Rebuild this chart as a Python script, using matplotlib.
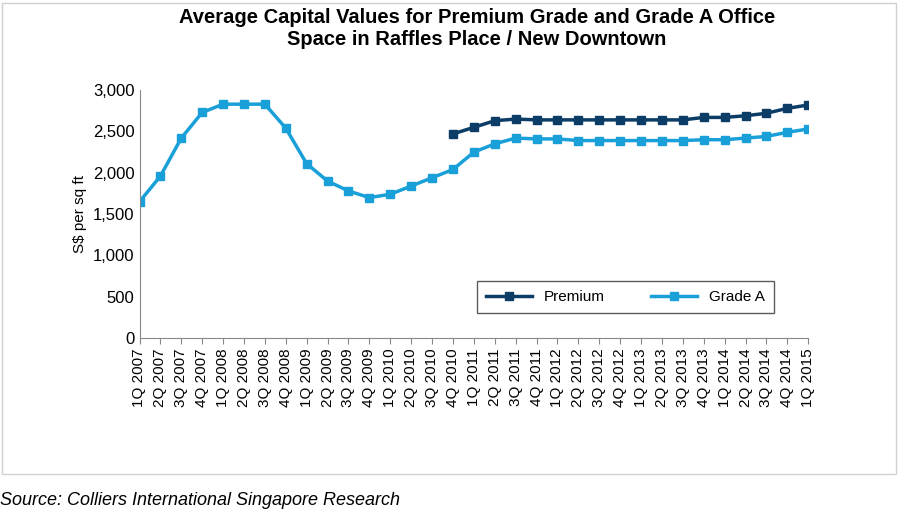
import matplotlib
matplotlib.use("Agg")
import matplotlib.pyplot as plt
from matplotlib.patches import Rectangle

quarters = [f"{q}Q {y}" for y in range(2007, 2016) for q in range(1, 5)][:33]
grade_a = [1650, 1960, 2420, 2730, 2830, 2830, 2830, 2540, 2110, 1900, 1780, 1700,
           1740, 1840, 1940, 2040, 2250, 2350, 2420, 2410, 2410, 2390, 2390, 2390,
           2390, 2390, 2390, 2400, 2400, 2420, 2440, 2490, 2530]
premium = [2470, 2550, 2630, 2650, 2640, 2640, 2640, 2640, 2640, 2640, 2640, 2640,
           2670, 2670, 2690, 2720, 2780, 2820]
premium_start = quarters.index("4Q 2010")

plt.rcParams['font.family'] = ['Liberation Sans', 'DejaVu Sans']
fig = plt.figure(figsize=(9, 5.21), dpi=100)
fig.patches.append(Rectangle((0.002, 0.09), 0.993, 0.905, transform=fig.transFigure,
                             fill=False, edgecolor="#d0d0d0", linewidth=1))
ax = fig.add_axes([0.155, 0.351, 0.743, 0.476])

x = list(range(len(quarters)))
ax.plot(x[premium_start:], premium, color="#0b3d66", marker="s", markersize=6,
        linewidth=2.5, label="Premium")
ax.plot(x, grade_a, color="#1aa0d8", marker="s", markersize=6, linewidth=2.5,
        label="Grade A")

ax.set_xlim(0, len(quarters) - 1)
ax.set_ylim(0, 3000)
ax.set_yticks(range(0, 3001, 500))
ax.set_yticklabels([f"{v:,}" for v in range(0, 3001, 500)], fontsize=12)
ax.set_xticks(x)
ax.set_xticklabels(quarters, rotation=90, fontsize=11)
ax.set_ylabel("S$ per sq ft", fontsize=11)
for s in ["top", "right"]:
    ax.spines[s].set_visible(False)
ax.spines["left"].set_color("#888888")
ax.spines["bottom"].set_color("#888888")
ax.tick_params(axis="x", length=4, color="#888888")
ax.tick_params(axis="y", length=0)

leg = ax.legend(loc="lower right", bbox_to_anchor=(0.96, 0.07), ncol=2, fontsize=11,
                frameon=True, fancybox=False, edgecolor="#333333",
                handlelength=3, columnspacing=3, borderpad=0.6)
leg.get_frame().set_linewidth(1)

fig.suptitle("Average Capital Values for Premium Grade and Grade A Office\nSpace in Raffles Place / New Downtown",
             x=0.53, y=0.985, fontsize=14.5, fontweight="bold", linespacing=1.2)
fig.text(0.0, 0.03, "Source: Colliers International Singapore Research",
         fontsize=13, style="italic")

fig.savefig("out.png", dpi=100)
